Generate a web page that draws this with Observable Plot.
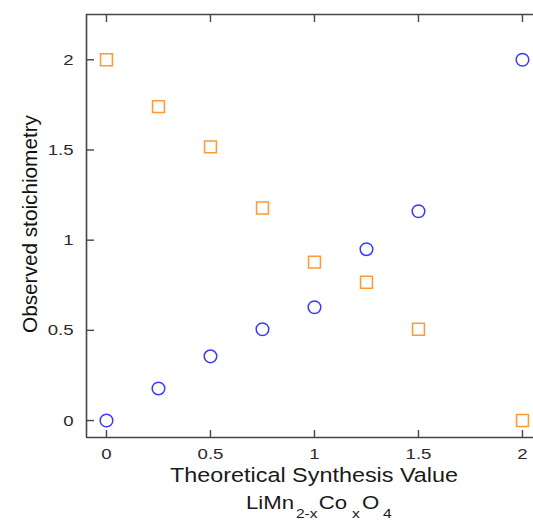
<!DOCTYPE html>
<html>
<head>
<meta charset="utf-8">
<script src="https://cdn.jsdelivr.net/npm/d3@7"></script>
<script src="https://cdn.jsdelivr.net/npm/@observablehq/plot@0.6"></script>
<style>
  html, body { margin: 0; padding: 0; background: #fff; }
  #chart svg { display: block; }
</style>
</head>
<body>
<div id="chart"></div>
<script>
// Data
const synthesis = [0, 0.25, 0.5, 0.75, 1, 1.25, 1.5, 2];
const coObserved = [0, 0.178, 0.356, 0.506, 0.628, 0.95, 1.16, 2];
const mnObserved = [2, 1.74, 1.517, 1.178, 0.878, 0.767, 0.506, 0];
const xTicks = [0, 0.5, 1, 1.5, 2];
const yTicks = [0, 0.5, 1, 1.5, 2];
const tickLabels = ["0", "0.5", "1", "1.5", "2"];
const xDomain = [-0.096, 2.053];
const yDomain = [-0.094, 2.251];
const xTitle = "Theoretical Synthesis Value";
const yTitle = "Observed stoichiometry";

const coPoints = synthesis.map((x, i) => ({x, y: coObserved[i]}));
const mnPoints = synthesis.map((x, i) => ({x, y: mnObserved[i]}));
const fmt = d => tickLabels[xTicks.indexOf(d)] ?? String(d);

const W = 533, H = 522;
const mL = 86, mR = 0, mT = 14, mB = 85;
const innerW = W - mL - mR, innerH = H - mT - mB;
const axisColor = "#454545";

const chart = Plot.plot({
  width: W, height: H,
  marginLeft: mL, marginRight: mR, marginTop: mT, marginBottom: mB,
  style: {fontFamily: "'Liberation Sans', Arial, sans-serif", fontSize: "15.5px", color: "#2a2a2a", background: "#fff"},
  x: {domain: xDomain},
  y: {domain: yDomain},
  marks: [
    Plot.ruleX([xDomain[0]], {stroke: axisColor, strokeWidth: 1.6}),
    Plot.ruleY([yDomain[0]], {stroke: axisColor, strokeWidth: 1.6}),
    Plot.ruleY([yDomain[1]], {stroke: axisColor, strokeWidth: 1.6}),
    Plot.tickX(xTicks, {x: d => d, insetTop: innerH - 7, stroke: axisColor, strokeWidth: 1.4}),
    Plot.tickX(xTicks, {x: d => d, insetBottom: innerH - 8, stroke: axisColor, strokeWidth: 1.4}),
    Plot.tickY(yTicks, {y: d => d, insetRight: innerW - 8, stroke: axisColor, strokeWidth: 1.4}),
    Plot.axisX({ticks: xTicks, tickFormat: fmt, tickSize: 0, tickPadding: 10, label: null}),
    Plot.axisY({ticks: yTicks, tickFormat: fmt, tickSize: 0, tickPadding: 13, label: null}),
    Plot.dot(coPoints, {x: "x", y: "y", r: 6.3, symbol: "circle", stroke: "#3a3aff", strokeWidth: 1.5, fill: "none"}),
    Plot.dot(mnPoints, {x: "x", y: "y", r: 6.7, symbol: "square", stroke: "#ff9a30", strokeWidth: 1.5, fill: "none"})
  ]
});
document.getElementById("chart").appendChild(chart);

const svg = d3.select(chart);
// horizontally stretch the tick labels like the reference
svg.selectAll('g[aria-label="x-axis tick label"] text, g[aria-label="y-axis tick label"] text').each(function() {
  const t = this.getAttribute("transform") || "";
  this.setAttribute("transform", t + " scale(1.2,1)");
});

// x title
svg.append("text")
  .attr("transform", "translate(314,482) scale(1.2,1)")
  .attr("text-anchor", "middle")
  .attr("font-family", "'Liberation Sans', Arial, sans-serif")
  .attr("font-size", 19.5)
  .attr("fill", "#1a1a1a")
  .text(xTitle);

// formula with subscripts
const f = svg.append("text")
  .attr("transform", "translate(246,509) scale(1.2,1)")
  .attr("text-anchor", "start")
  .attr("font-family", "'Liberation Sans', Arial, sans-serif")
  .attr("font-size", 18.5)
  .attr("fill", "#1a1a1a");
f.append("tspan").text("LiMn");
f.append("tspan").attr("font-size", 13).attr("dy", 9).attr("dx", 1.5).text("2-x");
f.append("tspan").attr("dy", -9).attr("dx", 1).text("Co");
f.append("tspan").attr("font-size", 13).attr("dy", 9).attr("dx", 4).text("x");
f.append("tspan").attr("dy", -9).attr("dx", 2).text("O");
f.append("tspan").attr("font-size", 13).attr("dy", 9).attr("dx", 3).text("4");

// y title
svg.append("text")
  .attr("transform", "translate(37,224) rotate(-90)")
  .attr("text-anchor", "middle")
  .attr("font-family", "'Liberation Sans', Arial, sans-serif")
  .attr("font-size", 21)
  .attr("fill", "#111")
  .attr("textLength", 218)
  .attr("lengthAdjust", "spacingAndGlyphs")
  .text(yTitle);
</script>
</body>
</html>
